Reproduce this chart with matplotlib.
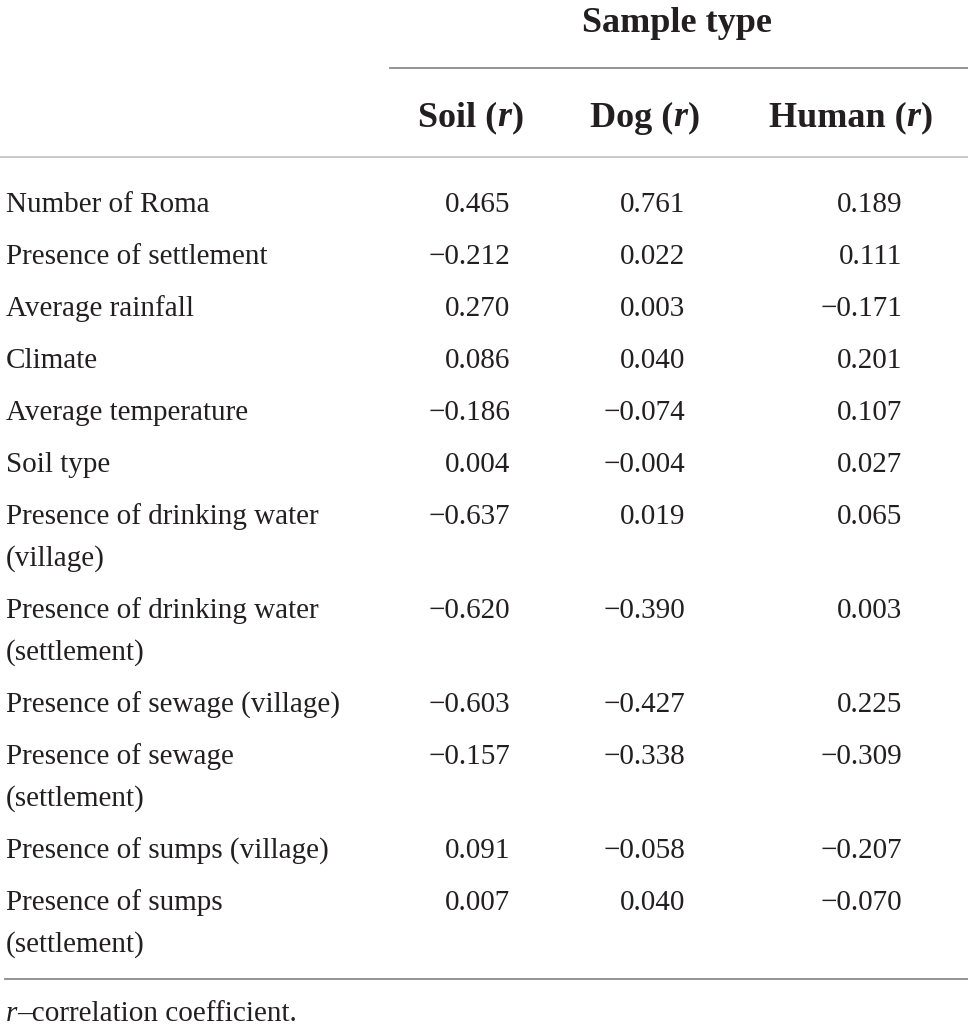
import matplotlib
matplotlib.use('Agg')
import matplotlib.pyplot as plt

# table content
variables = [
    ['Number of Roma'],
    ['Presence of settlement'],
    ['Average rainfall'],
    ['Climate'],
    ['Average temperature'],
    ['Soil type'],
    ['Presence of drinking water', '(village)'],
    ['Presence of drinking water', '(settlement)'],
    ['Presence of sewage (village)'],
    ['Presence of sewage', '(settlement)'],
    ['Presence of sumps (village)'],
    ['Presence of sumps', '(settlement)'],
]
soil_r = [0.465, -0.212, 0.270, 0.086, -0.186, 0.004, -0.637, -0.620, -0.603, -0.157, 0.091, 0.007]
dog_r = [0.761, 0.022, 0.003, 0.040, -0.074, -0.004, 0.019, -0.390, -0.427, -0.338, -0.058, 0.040]
human_r = [0.189, 0.111, -0.171, 0.201, 0.107, 0.027, 0.065, 0.003, 0.225, -0.309, -0.207, -0.070]
col_names = ['Soil', 'Dog', 'Human']
group_title = 'Sample type'
footnote = 'correlation coefficient.'

FONT = 'Liberation Serif'
INK = '#231f20'
W, H = 968, 1026

fig = plt.figure(figsize=(W / 100, H / 100), dpi=100)
ax = fig.add_axes([0, 0, 1, 1])
ax.set_xlim(0, W)
ax.set_ylim(H, 0)
ax.axis('off')
renderer = fig.canvas.get_renderer()


def fmt(v):
    s = '{:.3f}'.format(abs(v))
    return ('\u2212' + s) if v < 0 else s


def rich_text(x, y, parts, size, ha='left'):
    """draw a row of (text, weight, style) pieces one after the other"""
    arts = []
    for txt, weight, style in parts:
        t = ax.text(0, y, txt, fontsize=size, family=FONT, fontweight=weight,
                    fontstyle=style, va='center', ha='left', color=INK)
        arts.append(t)
    widths = [t.get_window_extent(renderer).width for t in arts]
    total = sum(widths)
    start = x - total / 2 if ha == 'center' else x
    for t, w in zip(arts, widths):
        t.set_x(start)
        start += w


# header
rich_text(677, 23, [(group_title, 'bold', 'normal')], 26)
ax.texts[-1].set_x(677 - ax.texts[-1].get_window_extent(renderer).width / 2)
ax.plot([390, W], [68, 68], color='#8a8a8a', lw=1.3)
col_centers = [471, 645, 851]
for name, cx in zip(col_names, col_centers):
    rich_text(cx, 118, [(name + ' (', 'bold', 'normal'), ('r', 'bold', 'italic'),
                        (')', 'bold', 'normal')], 26, ha='center')
ax.plot([0, W], [157, 157], color='#c4c4c4', lw=1.3)

# body
col_right = [510, 685, 902]
y = 205
for i, lines in enumerate(variables):
    for k, line in enumerate(lines):
        ax.text(6, y + 42 * k, line, fontsize=21, family=FONT, va='center',
                ha='left', color=INK)
    for vals, xr in zip([soil_r, dog_r, human_r], col_right):
        ax.text(xr, y, fmt(vals[i]), fontsize=21, family=FONT, va='center',
                ha='right', color=INK)
    y += 52 if len(lines) == 1 else 94

ax.plot([5, W], [979, 979], color='#8a8a8a', lw=1.3)
rich_text(6, 1014, [('r', 'normal', 'italic'), ('\u2013' + footnote, 'normal', 'normal')], 21)

fig.savefig('out.png', dpi=100)
